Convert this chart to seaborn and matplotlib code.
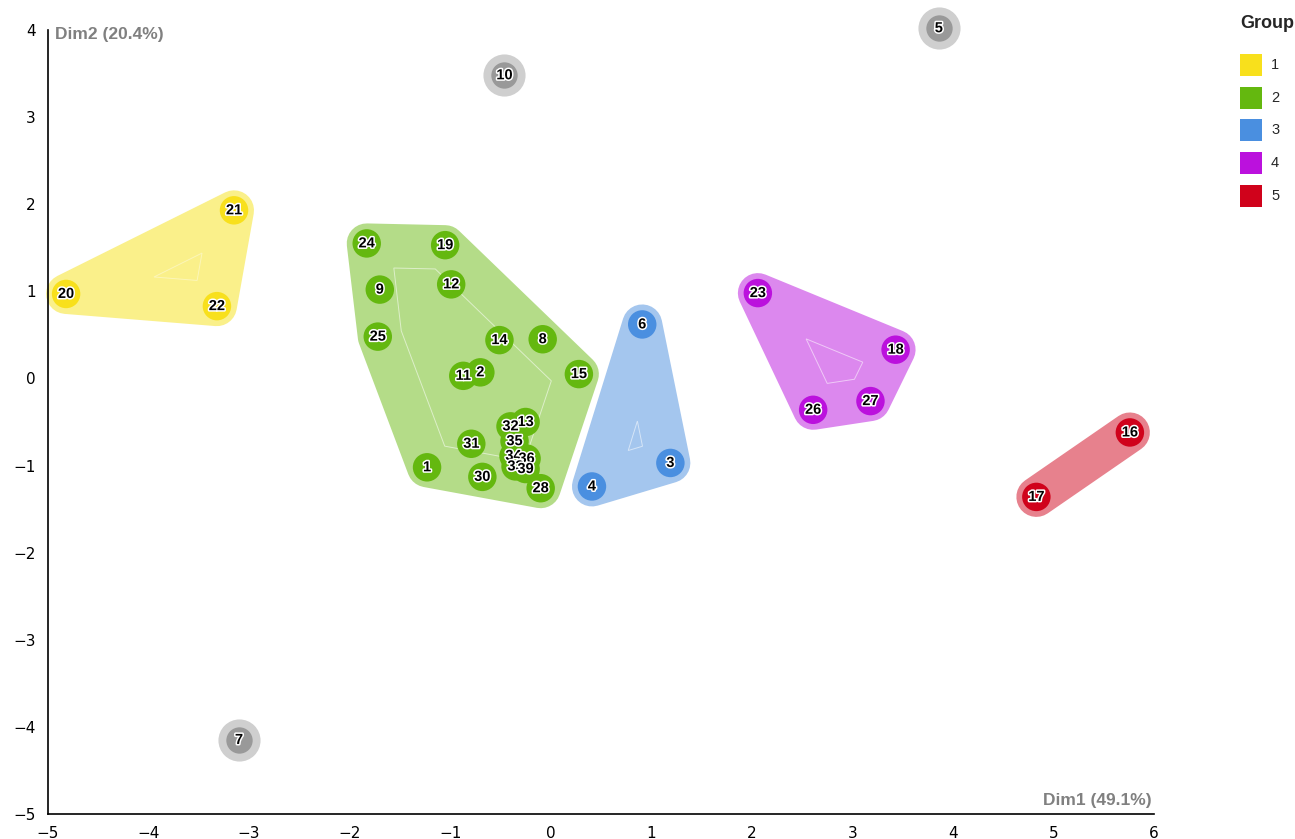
import numpy as np
import pandas as pd
import matplotlib
matplotlib.use("Agg")
import matplotlib.pyplot as plt
import seaborn as sns
from matplotlib.patches import Polygon, Rectangle
import matplotlib.patheffects as pe

# ---------------- data ----------------
labels = [20, 21, 22,
          24, 19, 9, 12, 25, 14, 8, 11, 2, 15, 13, 32, 35, 31, 34, 36, 33, 39, 30, 1, 28,
          6, 3, 4,
          23, 18, 26, 27,
          16, 17]
dim1 = [-4.82, -3.15, -3.32,
        -1.83, -1.05, -1.70, -0.99, -1.72, -0.51, -0.08, -0.87, -0.70, 0.28, -0.25, -0.40, -0.36, -0.79, -0.37, -0.24, -0.35, -0.25, -0.68, -1.23, -0.10,
        0.91, 1.19, 0.41,
        2.06, 3.43, 2.61, 3.18,
        5.76, 4.83]
dim2 = [0.97, 1.93, 0.83,
        1.55, 1.53, 1.02, 1.08, 0.48, 0.44, 0.45, 0.03, 0.07, 0.05, -0.50, -0.55, -0.72, -0.75, -0.89, -0.92, -1.01, -1.04, -1.13, -1.02, -1.26,
        0.62, -0.97, -1.24,
        0.98, 0.33, -0.36, -0.26,
        -0.62, -1.36]
groups = ["1"] * 3 + ["2"] * 21 + ["3"] * 3 + ["4"] * 4 + ["5"] * 2

# ungrouped points
other_labels = [10, 5, 7]
other_dim1 = [-0.46, 3.86, -3.10]
other_dim2 = [3.48, 4.02, -4.15]

group_names = ["1", "2", "3", "4", "5"]
group_colors = ["#F8E01C", "#64B80F", "#4A8FE0", "#BB11DD", "#D0021B"]
group_fill = ["#FAF08A", "#B4DC88", "#A4C6EE", "#DC88EE", "#E7818D"]

df = pd.DataFrame({"label": labels, "Dim1": dim1, "Dim2": dim2, "Group": groups})

# ---------------- figure ----------------
W, H = 1295, 839
fig = plt.figure(figsize=(W / 100, H / 100), dpi=100)
sns.set_style("white")
plt.rcParams["font.family"] = ["Liberation Sans", "DejaVu Sans"]

L, R, T, B = 48, 1154, 30, 814
ax = fig.add_axes([L / W, (H - B) / H, (R - L) / W, (B - T) / H])
ax.set_xlim(-5, 6)
ax.set_ylim(-5, 4)


def hull(pts):
    pts = sorted(map(tuple, pts))
    if len(pts) < 3:
        return np.array(pts)

    def cross(o, a, b):
        return (a[0] - o[0]) * (b[1] - o[1]) - (a[1] - o[1]) * (b[0] - o[0])
    lower, upper = [], []
    for p in pts:
        while len(lower) >= 2 and cross(lower[-2], lower[-1], p) <= 0:
            lower.pop()
        lower.append(p)
    for p in reversed(pts):
        while len(upper) >= 2 and cross(upper[-2], upper[-1], p) <= 0:
            upper.pop()
        upper.append(p)
    return np.array(lower[:-1] + upper[:-1])


def inset(poly, d):
    n = len(poly)
    lines = []
    for i in range(n):
        p, q = poly[i], poly[(i + 1) % n]
        v = q - p
        nrm = np.array([-v[1], v[0]]) / np.hypot(*v)
        lines.append((p + d * nrm, v))
    out = []
    for i in range(n):
        p1, v1 = lines[i - 1]
        p2, v2 = lines[i]
        A = np.array([v1, -v2]).T
        t = np.linalg.solve(A, p2 - p1)
        out.append(p1 + t[0] * v1)
    return np.array(out)


pad_px = 20
lw_pt = 2 * pad_px * 72 / 100
for g, fcol in zip(group_names, group_fill):
    sub = df[df.Group == g]
    pix = ax.transData.transform(sub[["Dim1", "Dim2"]].values)
    hp = hull(pix)
    hd = ax.transData.inverted().transform(hp)
    ax.add_patch(Polygon(hd, closed=True, facecolor="white", edgecolor="white",
                         linewidth=lw_pt + 3, joinstyle="round", capstyle="round",
                         zorder=1, clip_on=False))
    ax.add_patch(Polygon(hd, closed=True, facecolor=fcol, edgecolor=fcol,
                         linewidth=lw_pt, joinstyle="round", capstyle="round",
                         zorder=1.1, clip_on=False))
    if len(hp) >= 3:
        try:
            ins = inset(hp, 24)
            insd = ax.transData.inverted().transform(ins)
            ax.add_patch(Polygon(insd, closed=True, facecolor="none", edgecolor="white",
                                 linewidth=0.7, alpha=0.4 if g == "1" else 0.55, zorder=1.2))
        except Exception:
            pass

# gray ungrouped points
ax.scatter(other_dim1, other_dim2, s=920, color="#CFCFCF", zorder=2, clip_on=False, linewidths=0)
ax.scatter(other_dim1, other_dim2, s=360, color="#999999", zorder=3, clip_on=False, linewidths=0)

sns.scatterplot(data=df, x="Dim1", y="Dim2", hue="Group", hue_order=group_names,
                palette=group_colors, s=420, linewidth=0, legend=False, ax=ax, zorder=3)

for lab, x, y in list(zip(df.label, df.Dim1, df.Dim2)) + list(zip(other_labels, other_dim1, other_dim2)):
    ax.text(x, y, str(lab), ha="center", va="center", fontsize=10.5, fontweight="bold",
            color="black", zorder=5, clip_on=False,
            path_effects=[pe.withStroke(linewidth=2.2, foreground="white")])

# axes styling
for s in ["top", "right"]:
    ax.spines[s].set_visible(False)
for s in ["left", "bottom"]:
    ax.spines[s].set_color("black")
    ax.spines[s].set_linewidth(1.2)
ax.set_xticks(range(-5, 7))
ax.set_yticks(range(-5, 5))
ax.set_xticklabels([("\u2212" + str(-v)) if v < 0 else str(v) for v in range(-5, 7)],
                   fontfamily="DejaVu Sans")
ax.set_yticklabels([("\u2212" + str(-v)) if v < 0 else str(v) for v in range(-5, 5)],
                   fontfamily="DejaVu Sans")
ax.tick_params(axis="both", direction="out", length=6, width=1.2, labelsize=11, color="black",
               labelcolor="black", pad=3)
ax.set_xlabel("")
ax.set_ylabel("")
ax.grid(False)
ax.set_facecolor("none")

fig.text(55 / W, 1 - 35 / H, "Dim2 (20.4%)", ha="left", va="center",
         fontsize=12.5, fontweight="bold", color="#808080")
fig.text(1152 / W, 1 - 800 / H, "Dim1 (49.1%)", ha="right", va="center",
         fontsize=12.5, fontweight="bold", color="#808080")

# legend
fig.text(1240 / W, 1 - 24 / H, "Group", ha="left", va="center", fontsize=13, fontweight="bold")
for i, (g, c) in enumerate(zip(group_names, group_colors)):
    cy = 65 + i * 32.7
    fig.patches.append(Rectangle((1240 / W, 1 - (cy + 11) / H), 22 / W, 22 / H,
                                 transform=fig.transFigure, facecolor=c, edgecolor="none"))
    fig.text(1271 / W, 1 - cy / H, g, ha="left", va="center", fontsize=10.5)

fig.savefig("out.png", dpi=100)
